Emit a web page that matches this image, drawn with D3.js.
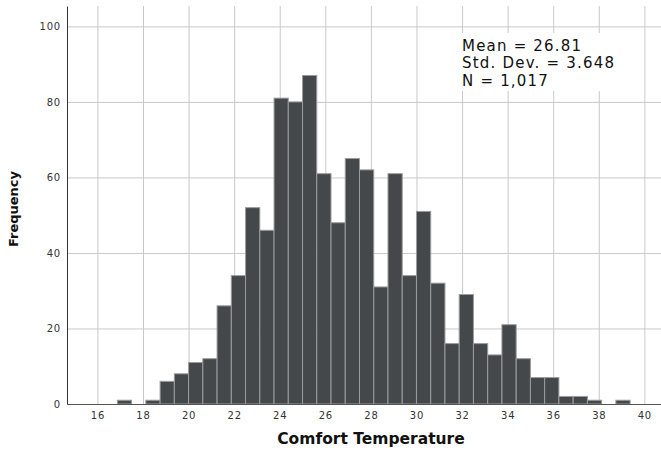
<!DOCTYPE html>
<html>
	<head>
		<meta charset="utf-8">
		<title>Comfort Temperature histogram</title>
		<script type="text/javascript" src="https://cdn.jsdelivr.net/npm/d3@7"></script>
		<style type="text/css">
			body{ margin: 0; background: #fff; }
			svg{ display: block; }
			.tick text{ font-family: "DejaVu Sans", sans-serif; font-size: 10px; fill: #333; letter-spacing: 0.8px; }
		</style>
	</head>
	<body>
		<svg id="chart" width="661" height="450"></svg>
	</body>
	<script type="text/javascript">
		// bins (lower edges) and counts
		const binStarts = [16.875, 17.5, 18.125, 18.75, 19.375, 20, 20.625, 21.25, 21.875, 22.5,
			23.125, 23.75, 24.375, 25, 25.625, 26.25, 26.875, 27.5, 28.125, 28.75,
			29.375, 30, 30.625, 31.25, 31.875, 32.5, 33.125, 33.75, 34.375, 35,
			35.625, 36.25, 36.875, 37.5, 38.125, 38.75];
		const binWidth = 0.625;
		const counts = [1, 0, 1, 6, 8, 11, 12, 26, 34, 52,
			46, 81, 80, 87, 61, 48, 65, 62, 31, 61,
			34, 51, 32, 16, 29, 16, 13, 21, 12, 7,
			7, 2, 2, 1, 0, 1];
		const xTicks = [16, 18, 20, 22, 24, 26, 28, 30, 32, 34, 36, 38, 40];
		const yTicks = [0, 20, 40, 60, 80, 100];
		const statsLines = ["Mean = 26.81", "Std. Dev. = 3.648", "N = 1,017"];

		const pLeft = 67, pRight = 661, pTop = 6, pBottom = 404;

		let svg = d3.select("#chart");

		let xScale = d3.scaleLinear()
					.domain([14.665, 40.73])
					.range([pLeft, pRight]);

		let yScale = d3.scaleLinear()
					.domain([0, 105.4])
					.range([pBottom, pTop]);

		// grid
		svg.append("g")
			.attr("transform", "translate(0," + pBottom + ")")
			.call(d3.axisBottom(xScale).tickValues(xTicks).tickSize(-(pBottom - pTop)).tickFormat(""))
			.call(function(g){ g.select(".domain").remove(); })
			.selectAll("line")
			.attr("stroke", "#c9c9c9");

		svg.append("g")
			.attr("transform", "translate(" + pLeft + ",0)")
			.call(d3.axisLeft(yScale).tickValues(yTicks).tickSize(-(pRight - pLeft)).tickFormat(""))
			.call(function(g){ g.select(".domain").remove(); })
			.selectAll("line")
			.attr("stroke", "#c9c9c9");

		// bars
		svg.selectAll("rect.bar")
			.data(counts)
			.enter()
			.append("rect")
			.attr("class", "bar")
			.attr("x", function(d, i){ return xScale(binStarts[i]); })
			.attr("y", function(d){ return yScale(d); })
			.attr("width", function(d, i){ return xScale(binStarts[i] + binWidth) - xScale(binStarts[i]); })
			.attr("height", function(d){ return pBottom - yScale(d); })
			.attr("fill", "#45484a")
			.attr("stroke", "#9a9c9d")
			.attr("stroke-width", 1)
			.style("display", function(d){ return d > 0 ? null : "none"; });

		// axes
		let xAxis = svg.append("g")
			.attr("transform", "translate(0," + pBottom + ")")
			.call(d3.axisBottom(xScale).tickValues(xTicks).tickSize(0).tickPadding(8));
		xAxis.select(".domain").attr("stroke", "#555");

		let yAxis = svg.append("g")
			.attr("transform", "translate(" + pLeft + ",0)")
			.call(d3.axisLeft(yScale).tickValues(yTicks).tickSize(0).tickPadding(6));
		yAxis.select(".domain").attr("stroke", "#333");

		// axis titles
		svg.append("text")
			.text("Comfort Temperature")
			.attr("x", 371)
			.attr("y", 444)
			.attr("text-anchor", "middle")
			.attr("font-family", "DejaVu Sans, sans-serif")
			.attr("font-weight", "bold")
			.attr("font-size", "15.5px")
			.attr("fill", "#111");

		svg.append("text")
			.text("Frequency")
			.attr("transform", "translate(18,209) rotate(-90)")
			.attr("text-anchor", "middle")
			.attr("font-family", "DejaVu Sans, sans-serif")
			.attr("font-weight", "bold")
			.attr("font-size", "13px")
			.attr("fill", "#111");

		// stats box
		svg.append("rect")
			.attr("x", 455)
			.attr("y", 33)
			.attr("width", 175)
			.attr("height", 58)
			.attr("fill", "#fff");

		svg.selectAll("text.stat")
			.data(statsLines)
			.enter()
			.append("text")
			.attr("class", "stat")
			.text(function(d){ return d; })
			.attr("x", 462)
			.attr("y", function(d, i){ return 50.7 + i * 17.6; })
			.attr("font-family", "DejaVu Sans, sans-serif")
			.attr("font-size", "15px")
			.attr("letter-spacing", "1.2px")
			.attr("fill", "#111");
	</script>
</html>
